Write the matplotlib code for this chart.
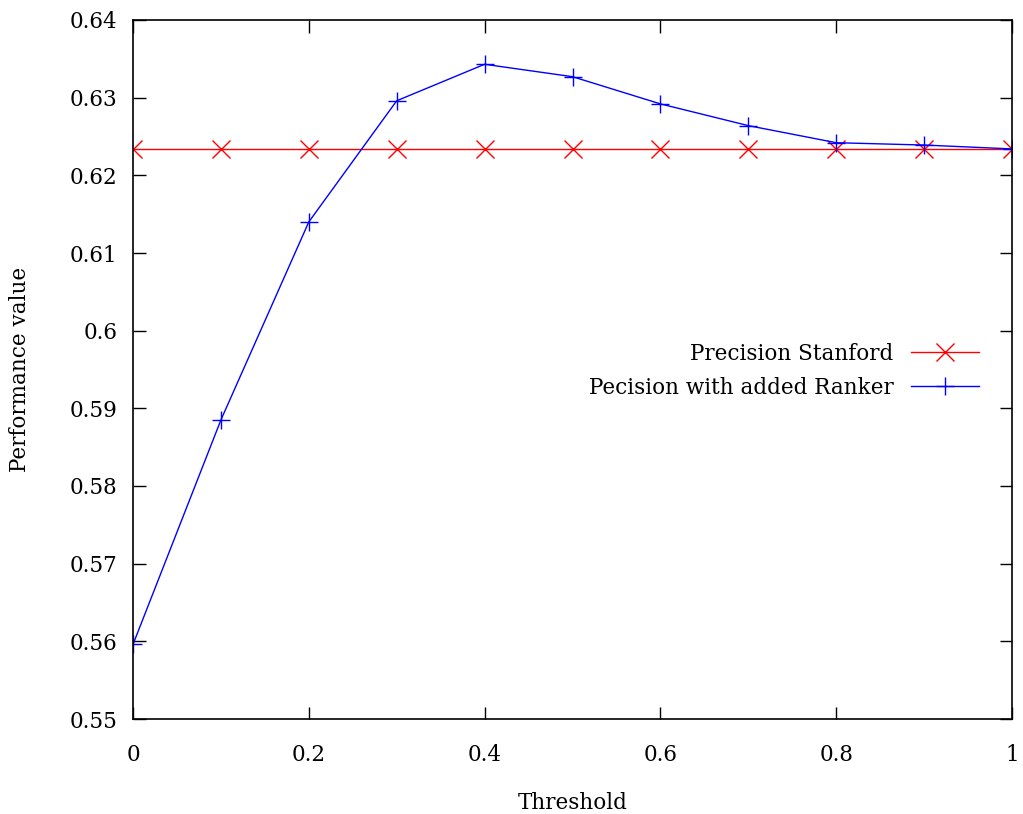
import numpy as np
import matplotlib.pyplot as plt

plt.rcParams['font.family'] = ['DejaVu Serif']

threshold = [0.0, 0.1, 0.2, 0.3, 0.4, 0.5, 0.6, 0.7, 0.8, 0.9, 1.0]
stanford = [0.6234] * 11
ranker = [0.5596, 0.5885, 0.6140, 0.6296, 0.6343, 0.6327, 0.6292, 0.6264, 0.6242, 0.6239, 0.6234]

fig = plt.figure(figsize=(10.23, 8.14), dpi=100)
ax = fig.add_axes([133/1023, 1 - 719/814, (1012-133)/1023, (719-20)/814])

ax.plot(threshold, stanford, color='red', lw=1, marker='x', ms=13, mew=1,
        label='Precision Stanford')
ax.plot(threshold, ranker, color='blue', lw=1, marker='+', ms=13, mew=1,
        label='Pecision with added Ranker')

ax.set_xlim(0, 1)
ax.set_ylim(0.55, 0.64)
ax.set_xticks(np.arange(0, 1.01, 0.2))
ax.set_xticklabels(['0', '0.2', '0.4', '0.6', '0.8', '1'])
ax.set_yticks(np.arange(0.55, 0.6401, 0.01))
ax.set_yticklabels(['0.55', '0.56', '0.57', '0.58', '0.59', '0.6', '0.61', '0.62', '0.63', '0.64'])
ax.tick_params(direction='in', top=True, right=True, length=9, width=1, labelsize=15.5)
ax.tick_params(axis='x', pad=18)
ax.tick_params(axis='y', pad=11)
for s in ax.spines.values():
    s.set_linewidth(1.2)

ax.set_xlabel('Threshold', fontsize=15.5, labelpad=19)
ax.set_ylabel('Performance value', fontsize=15.5, labelpad=28)

ax.legend(loc='center right', bbox_to_anchor=(0.985, 0.498), frameon=False,
          markerfirst=False, fontsize=15.5, handlelength=3.2, labelspacing=0.55)

fig.savefig('out.png', dpi=100)
